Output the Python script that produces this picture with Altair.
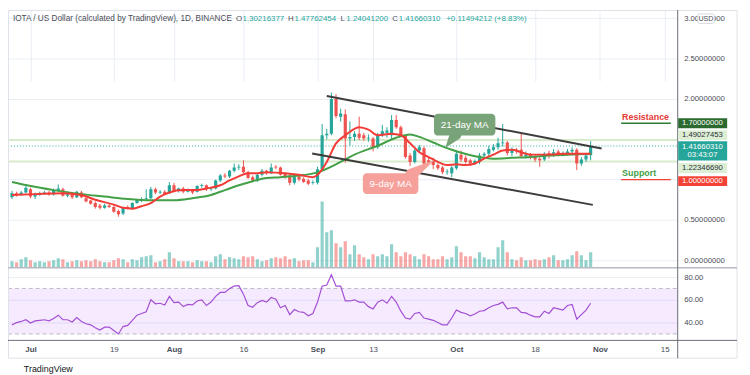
import altair as alt
import pandas as pd

FONT = "Liberation Sans"
W, H = 677, 334
UP, DOWN = "#26a69a", "#ef5350"
GRID = "#e9eef5"
AXT = "#4a4d57"

# ---------------- data ----------------
start = pd.Timestamp("2021-06-27")
dates = [(start + pd.Timedelta(days=i)).strftime("%Y-%m-%d") for i in range(126)]

opens = [0.78, 0.83, 0.81, 0.84, 0.88, 0.79, 0.81, 0.83, 0.84, 0.82,
         0.86, 0.88, 0.80, 0.82, 0.78, 0.84, 0.77, 0.74, 0.71, 0.68,
         0.65, 0.68, 0.66, 0.61, 0.58, 0.66, 0.64, 0.71, 0.74, 0.76,
         0.77, 0.88, 0.84, 0.85, 0.83, 0.93, 0.86, 0.89, 0.85, 0.87,
         0.85, 0.92, 0.93, 0.88, 0.89, 0.99, 1.05, 1.04, 1.11, 1.15,
         1.16, 1.09, 1.03, 0.99, 1.06, 1.11, 1.08, 1.16, 1.15, 1.07,
         1.05, 0.96, 1.04, 1.01, 0.99, 0.96, 0.96, 1.13, 1.55, 1.57,
         2.00, 1.78, 1.81, 1.51, 1.53, 1.57, 1.55, 1.51, 1.51, 1.40,
         1.55, 1.58, 1.55, 1.74, 1.65, 1.54, 1.30, 1.22, 1.36, 1.39,
         1.24, 1.23, 1.18, 1.15, 1.09, 1.08, 1.14, 1.31, 1.27, 1.24,
         1.20, 1.22, 1.30, 1.32, 1.37, 1.40, 1.45, 1.46, 1.33, 1.37,
         1.37, 1.29, 1.31, 1.28, 1.26, 1.25, 1.33, 1.30, 1.35, 1.31,
         1.32, 1.35, 1.37, 1.20, 1.25, 1.30216377]
highs = [0.86, 0.85, 0.86, 0.93, 0.90, 0.84, 0.85, 0.86, 0.86, 0.89,
         0.94, 0.90, 0.84, 0.84, 0.86, 0.86, 0.79, 0.75, 0.73, 0.70,
         0.70, 0.70, 0.68, 0.63, 0.66, 0.68, 0.72, 0.76, 0.78, 0.88,
         0.91, 0.90, 0.87, 0.87, 0.97, 0.96, 0.90, 0.91, 0.89, 0.88,
         0.93, 0.95, 0.94, 0.91, 1.00, 1.07, 1.08, 1.12, 1.20, 1.19,
         1.24, 1.11, 1.05, 1.08, 1.13, 1.12, 1.20, 1.18, 1.16, 1.09,
         1.08, 1.06, 1.06, 1.03, 1.01, 0.99, 1.16, 1.69, 1.63, 2.08,
         2.06, 1.88, 1.87, 1.72, 1.60, 1.78, 1.58, 1.56, 1.53, 1.58,
         1.68, 1.65, 1.80, 1.80, 1.67, 1.56, 1.33, 1.38, 1.43, 1.41,
         1.27, 1.27, 1.20, 1.17, 1.13, 1.17, 1.36, 1.36, 1.30, 1.26,
         1.25, 1.33, 1.34, 1.42, 1.44, 1.52, 1.69, 1.48, 1.40, 1.39,
         1.57, 1.35, 1.33, 1.30, 1.28, 1.34, 1.36, 1.38, 1.37, 1.35,
         1.38, 1.40, 1.39, 1.28, 1.33, 1.47762454]
lows = [0.76, 0.79, 0.80, 0.83, 0.77, 0.76, 0.80, 0.81, 0.80, 0.80,
        0.85, 0.79, 0.78, 0.76, 0.77, 0.77, 0.72, 0.69, 0.64, 0.63,
        0.64, 0.65, 0.59, 0.54, 0.56, 0.63, 0.63, 0.70, 0.72, 0.74,
        0.76, 0.82, 0.82, 0.81, 0.82, 0.85, 0.84, 0.83, 0.84, 0.82,
        0.84, 0.90, 0.86, 0.86, 0.88, 0.97, 1.02, 1.02, 1.09, 1.12,
        1.08, 1.01, 0.97, 0.97, 1.04, 1.06, 1.07, 1.13, 1.05, 1.01,
        0.93, 0.94, 0.98, 0.96, 0.93, 0.94, 0.94, 1.12, 1.50, 1.55,
        1.76, 1.72, 1.21, 1.42, 1.48, 1.49, 1.48, 1.47, 1.35, 1.38,
        1.53, 1.52, 1.50, 1.63, 1.53, 1.26, 1.17, 1.20, 1.33, 1.17,
        1.18, 1.13, 1.12, 1.07, 1.06, 1.03, 1.12, 1.22, 1.20, 1.17,
        1.18, 1.19, 1.27, 1.29, 1.35, 1.37, 1.41, 1.30, 1.29, 1.32,
        1.27, 1.26, 1.25, 1.22, 1.16, 1.23, 1.26, 1.28, 1.29, 1.29,
        1.30, 1.33, 1.12, 1.17, 1.22, 1.24041200]
closes = [0.83, 0.81, 0.84, 0.90, 0.79, 0.81, 0.83, 0.84, 0.82, 0.87,
          0.89, 0.80, 0.82, 0.78, 0.85, 0.78, 0.73, 0.70, 0.66, 0.65,
          0.68, 0.66, 0.60, 0.57, 0.65, 0.64, 0.71, 0.75, 0.76, 0.77,
          0.88, 0.84, 0.85, 0.82, 0.93, 0.86, 0.89, 0.85, 0.87, 0.84,
          0.92, 0.93, 0.88, 0.89, 0.99, 1.05, 1.04, 1.11, 1.15, 1.16,
          1.09, 1.02, 0.99, 1.06, 1.11, 1.08, 1.15, 1.15, 1.06, 1.03,
          0.96, 1.04, 1.00, 0.97, 0.95, 0.97, 1.13, 1.55, 1.57, 2.00,
          1.79, 1.82, 1.51, 1.53, 1.57, 1.52, 1.51, 1.52, 1.40, 1.55,
          1.60, 1.61, 1.74, 1.65, 1.55, 1.28, 1.22, 1.36, 1.40, 1.20,
          1.21, 1.18, 1.14, 1.09, 1.10, 1.15, 1.32, 1.25, 1.22, 1.20,
          1.23, 1.30, 1.32, 1.38, 1.40, 1.45, 1.46, 1.33, 1.37, 1.35,
          1.29, 1.31, 1.28, 1.25, 1.24, 1.32, 1.31, 1.34, 1.31, 1.32,
          1.35, 1.37, 1.20, 1.25, 1.30, 1.41660310]
volumes = [24, 20, 32, 40, 28, 20, 24, 20, 24, 28,
           36, 32, 20, 24, 28, 24, 28, 24, 32, 24,
           20, 20, 28, 36, 32, 20, 32, 28, 40, 44,
           48, 20, 24, 32, 60, 36, 24, 24, 24, 20,
           28, 24, 24, 20, 44, 52, 32, 40, 36, 32,
           44, 40, 44, 32, 24, 28, 36, 40, 36, 44,
           32, 36, 24, 28, 28, 20, 80, 264, 140, 148,
           96, 80, 104, 52, 88, 52, 40, 32, 52, 44,
           52, 44, 92, 60, 44, 60, 52, 44, 32, 52,
           44, 32, 32, 44, 32, 40, 84, 60, 44, 44,
           36, 60, 40, 32, 32, 80, 108, 60, 32, 28,
           40, 28, 28, 32, 28, 32, 40, 48, 28, 28,
           32, 48, 64, 48, 28, 60]
rsi14 = [38, 40, 41, 42.5, 39.6, 41.5, 42, 42.5, 41.5, 43.5,
         46.5, 42.5, 42.5, 40.5, 44.5, 41, 39, 38, 35.5, 33.5,
         36, 36, 33, 30, 36.5, 37.5, 42, 46.5, 48, 49.5,
         60, 56.5, 57, 55.5, 63, 57.5, 58, 54, 56, 55.5,
         59, 60, 55, 58, 63, 66.5, 66.5, 70, 72, 72.5,
         65, 55, 53.5, 57.5, 59.5, 58, 62, 60.5, 53, 55,
         47, 51.5, 49.5, 49, 46, 48, 58, 72, 73, 82,
         72, 72, 59, 59, 60, 58, 58, 54, 52, 58,
         60, 57, 63, 58, 50, 44, 43, 48, 49, 44,
         43, 42, 40, 38, 38, 44, 51, 49, 48, 46,
         47.5, 50, 50.5, 53, 55, 56, 58, 52, 53, 53,
         49, 48.5, 46.5, 45, 45, 50, 48, 53, 52, 51,
         55, 56, 43, 47, 51, 57]

ma9_day = [0, 5, 11, 15, 18, 22, 24, 26, 28, 30, 32, 34, 37, 40, 42, 45, 47, 49, 51, 53,
           55, 59, 62, 65, 66, 68, 70, 72, 74, 75, 77, 79, 82, 84, 86, 88, 90, 92, 94, 96,
           98, 100, 102, 104, 106, 108, 110, 112, 116, 119, 122, 125]
ma9_val = [0.81, 0.82, 0.83, 0.81, 0.75, 0.69, 0.65, 0.64, 0.67, 0.71, 0.79, 0.84, 0.87, 0.87,
           0.89, 0.93, 0.99, 1.04, 1.08, 1.08, 1.09, 1.08, 1.06, 1.03, 1.06, 1.22, 1.45, 1.55,
           1.63, 1.65, 1.62, 1.55, 1.57, 1.55, 1.45, 1.34, 1.28, 1.22, 1.18, 1.19, 1.18, 1.20,
           1.26, 1.31, 1.36, 1.37, 1.34, 1.31, 1.31, 1.32, 1.32, 1.32]
ma21_day = [0, 4, 9, 15, 20, 25, 30, 35, 39, 43, 46, 49, 52, 55, 58, 62, 66, 70, 74, 79,
            83, 86, 88, 91, 95, 100, 104, 108, 112, 116, 121, 125]
ma21_val = [0.97, 0.92, 0.87, 0.82, 0.79, 0.76, 0.745, 0.745, 0.77, 0.81, 0.87, 0.93, 0.98,
            1.02, 1.03, 1.05, 1.09, 1.19, 1.31, 1.42, 1.52, 1.56, 1.53, 1.46, 1.37, 1.29,
            1.26, 1.27, 1.28, 1.30, 1.31, 1.32]

x_ticks = ["2021-07-01", "2021-07-19", "2021-08-01", "2021-08-16", "2021-09-01",
           "2021-09-13", "2021-10-01", "2021-10-18", "2021-11-01", "2021-11-15"]
price_ticks = [0, 0.5, 1, 1.5, 2, 2.5, 3]
rsi_ticks = [40, 60, 80]

# channel drawings (time, price)
trend_line = ["upper", "upper", "lower", "lower"]
trend_time = ["2021-09-03T00:00:00Z", "2021-11-01T08:50:00Z",
              "2021-08-30T20:10:00Z", "2021-10-30T11:20:00Z"]
trend_price = [2.037, 1.387, 1.325, 0.687]

# ---------------- tables ----------------
def ms(s):
    return int(pd.Timestamp(s).value // 10**6)

candles = pd.DataFrame({"date": dates, "open": opens, "high": highs, "low": lows,
                        "close": closes, "volume": volumes, "rsi": rsi14})
candles["dir"] = ["up" if c >= o else "down" for o, c in zip(opens, closes)]
ma9 = pd.DataFrame({"date": [dates[i] for i in ma9_day], "v": ma9_val})
ma21 = pd.DataFrame({"date": [dates[i] for i in ma21_day], "v": ma21_val})
trend = pd.DataFrame({"line": trend_line, "date": trend_time, "price": trend_price})
ONE = pd.DataFrame({"k": [0]})

XS = alt.Scale(type="utc", domain=[ms("2021-06-27T05:03:00Z"), ms("2021-11-16T17:41:00Z")],
               range=[0, W])
PS = alt.Scale(domain=[-0.0859, 3.104], range=[260, 0], nice=False, zero=False)
VS = alt.Scale(domain=[0, 270], range=[260, 192], nice=False, zero=False)
RS = alt.Scale(domain=[24.35, 86.96], range=[334, 262], nice=False, zero=False)
COL = alt.Color("dir:N", scale=alt.Scale(domain=["up", "down"], range=[UP, DOWN]), legend=None)

XAXIS = alt.Axis(values=[ms(d) for d in x_ticks],
                 labelExpr="utcdate(datum.value) == 1 ? utcFormat(datum.value, '%b') : utcFormat(datum.value, '%-d')",
                 labelFontWeight={"condition": {"test": "utcdate(datum.value) == 1", "value": "bold"},
                                  "value": "normal"},
                 grid=True, gridColor=GRID, ticks=False, domain=False, labelPadding=5,
                 labelFontSize=8, labelColor=AXT, labelFont=FONT, labelOverlap=False,
                 labelFlush=False, title=None)


def X(field="date:T"):
    return alt.X(field, scale=XS, axis=XAXIS, title=None)


def P(field, axis=None):
    return alt.Y(field, scale=PS, axis=axis, title=None)


def PD(v):
    return alt.Y(datum=v, scale=PS, axis=None)


def txt(text, x, y, size=8.3, color=AXT, weight="normal", align="left", baseline="middle"):
    return alt.Chart(ONE).mark_text(text=text, font=FONT, fontSize=size, color=color,
                                    fontWeight=weight, align=align, baseline=baseline
                                    ).encode(x=alt.value(x), y=alt.value(y))


def prule(x1, x2, y1, y2, color, w=1.0):
    return alt.Chart(ONE).mark_rule(color=color, strokeWidth=w).encode(
        x=alt.value(x1), x2=alt.value(x2), y=alt.value(y1), y2=alt.value(y2))


layers = []

# RSI pane
raxis = alt.Axis(orient="right", values=rsi_ticks, format=".2f", grid=True, gridColor=GRID,
                 ticks=False, domain=False, labelPadding=6, labelFontSize=7.8, labelColor=AXT,
                 labelFont=FONT, labelOverlap=False, labelFlush=False)
layers.append(alt.Chart(ONE).mark_rect(color="#9915ff", opacity=0.09).encode(
    x=alt.value(0), x2=alt.value(W),
    y=alt.Y(datum=70, scale=RS, axis=None), y2=alt.Y2(datum=30)))
for lvl in (70, 30):
    layers.append(alt.Chart(ONE).mark_rule(color="#b9b9c2", strokeDash=[4, 3], strokeWidth=1).encode(
        x=alt.value(0), x2=alt.value(W), y=alt.Y(datum=lvl, scale=RS, axis=None)))
layers.append(alt.Chart(candles).mark_line(color="#a34fd3", strokeWidth=1.2, clip=True).encode(
    x=X(), y=alt.Y("rsi:Q", scale=RS, axis=raxis, title=None)))

# volume
layers.append(alt.Chart(candles).mark_bar(size=3.2, opacity=0.5, clip=True).encode(
    x=X(), y=alt.Y("volume:Q", scale=VS, axis=None), color=COL))

# horizontal drawings
for lvl in (1.49027453, 1.22346690):
    layers.append(alt.Chart(ONE).mark_rule(color="#d7eacb", strokeWidth=2).encode(
        x=alt.value(0), x2=alt.value(W), y=PD(lvl)))
layers.append(alt.Chart(ONE).mark_rule(color=UP, strokeWidth=1, strokeDash=[1, 2]).encode(
    x=alt.value(0), x2=alt.value(W), y=PD(1.41660310)))

# candles
paxis = alt.Axis(orient="right", values=price_ticks, grid=True, gridColor=GRID,
                 labelExpr="datum.value == 1 || datum.value == 1.5 ? '' : format(datum.value, '.8f')",
                 ticks=False, domain=False, labelPadding=6, labelFontSize=7.8, labelColor=AXT,
                 labelFont=FONT, labelOverlap=False, labelFlush=False)
layers.append(alt.Chart(candles).mark_rule(strokeWidth=1, clip=True).encode(
    x=X(), y=P("low:Q", axis=paxis), y2="high:Q", color=COL))
layers.append(alt.Chart(candles).mark_bar(size=3.2, clip=True).encode(
    x=X(), y=P("open:Q"), y2="close:Q", color=COL))

# moving averages
layers.append(alt.Chart(ma21).mark_line(color="#43a047", strokeWidth=2, clip=True,
                                        interpolate="monotone").encode(x=X(), y=P("v:Q")))
layers.append(alt.Chart(ma9).mark_line(color="#f23b36", strokeWidth=2, clip=True,
                                       interpolate="monotone").encode(x=X(), y=P("v:Q")))

# channel
layers.append(alt.Chart(trend).mark_line(color="#3c3c3c", strokeWidth=2).encode(
    x=X(), y=P("price:Q"), detail="line:N"))


# callouts
def callout(d1, d2, p1, p2, tdate, tprice, tail_dates, tail_prices, tail_w, fill, label):
    box = pd.DataFrame({"d1": [d1], "d2": [d2], "p1": [p1], "p2": [p2]})
    tail = pd.DataFrame({"date": tail_dates, "price": tail_prices, "w": tail_w})
    lab = pd.DataFrame({"date": [tdate], "price": [tprice]})
    return [
        alt.Chart(tail).mark_trail(color=fill).encode(
            x=X(), y=P("price:Q"), size=alt.Size("w:Q", scale=None, legend=None)),
        alt.Chart(box).mark_rect(color=fill, cornerRadius=4).encode(
            x=X("d1:T"), x2="d2:T", y=P("p1:Q"), y2="p2:Q"),
        alt.Chart(lab).mark_text(text=label, font=FONT, fontSize=10, color="white").encode(
            x=X(), y=P("price:Q")),
    ]


layers += callout("2021-09-26T03:48:00Z", "2021-10-09T10:06:00Z", 1.546, 1.816,
                  "2021-10-02T19:00:00Z", 1.681,
                  ["2021-09-28T16:20:00Z", "2021-09-30T19:00:00Z"], [1.399, 1.558], [0.5, 12],
                  "#79a378", "21-day MA")
layers += callout("2021-09-10T19:00:00Z", "2021-09-22T19:00:00Z", 0.822, 1.080,
                  "2021-09-16T19:00:00Z", 0.951,
                  ["2021-09-21T07:40:00Z", "2021-09-26T03:48:00Z"], [1.067, 1.239], [12, 0.5],
                  "#f5a09a", "9-day MA")

# resistance / support
for lvl, lcol, label, tcol in ((1.70, "#2e7d32", "Resistance", "#e53935"),
                               (1.00, "#f44336", "Support", "#43a047")):
    seg = pd.DataFrame({"date": ["2021-11-05T13:55:00Z", "2021-11-16T07:40:00Z"], "price": [lvl, lvl]})
    layers.append(alt.Chart(seg).mark_line(color=lcol, strokeWidth=1.5).encode(x=X(), y=P("price:Q")))
    tl = pd.DataFrame({"date": ["2021-11-05T19:00:00Z"], "price": [lvl]})
    layers.append(alt.Chart(tl).mark_text(text=label, font=FONT, fontSize=9, fontWeight="bold",
                                          color=tcol, align="left", dy=-6.5).encode(
        x=X(), y=P("price:Q")))

# frame, pane separators and axis lines
layers.append(alt.Chart(ONE).mark_rect(fillOpacity=0, stroke="#dfe2e8", strokeWidth=1).encode(
    x=alt.value(0.5), x2=alt.value(737), y=alt.value(0.5), y2=alt.value(352)))
layers.append(prule(0, 737, 260.5, 260.5, "#b7bac2", 1.5))
layers.append(prule(0, 737, 334, 334, "#6a6d78", 1))
layers.append(prule(677, 677, 0, 352, "#6a6d78", 1))


# price tags on the scale
def tag(value, line1, fill, tcol, shift, h=10, line2=None):
    out = [alt.Chart(ONE).mark_rect(color=fill, yOffset=shift - h / 2, y2Offset=shift + h / 2).encode(
        x=alt.value(677.5), x2=alt.value(727), y=PD(value), y2=alt.Y2(datum=value))]
    dy1 = shift if line2 is None else shift - 4.5
    out.append(alt.Chart(ONE).mark_text(text=line1, font=FONT, fontSize=7.8, color=tcol, dy=dy1).encode(
        x=alt.value(702), y=PD(value)))
    if line2 is not None:
        out.append(alt.Chart(ONE).mark_text(text=line2, font=FONT, fontSize=7.8, color=tcol,
                                            dy=shift + 4.5).encode(x=alt.value(702), y=PD(value)))
    return out


layers += tag(1.70, "1.70000000", "#2b6a2f", "white", 0)
layers += tag(1.49027453, "1.49027453", "#dcefd4", "#2a2e39", -5)
layers += tag(1.41660310, "1.41660310", UP, "white", 5, h=19.5, line2="03:43:07")
layers += tag(1.22346690, "1.22346690", "#dcefd4", "#2a2e39", 6.5)
layers += tag(1.00, "1.00000000", "#f44336", "white", 1.5)

# USD badge
layers.append(alt.Chart(ONE).mark_rect(fill="white", stroke="#c9ccd3", strokeWidth=0.8,
                                       cornerRadius=2).encode(
    x=alt.value(697), x2=alt.value(714), y=alt.value(4), y2=alt.value(13.5)))
layers.append(txt("USD", 705.5, 9, size=7.2, align="center"))

# header
layers.append(txt("IOTA / US Dollar (calculated by TradingView), 1D, BINANCE", 5, 9))
for lab, x in (("O", 230.5), ("H", 283), ("L", 336), ("C", 388.5)):
    layers.append(txt(lab, x, 9, size=8))
for val, x in (("1.30216377", 237), ("1.47762454", 289.5), ("1.24041200", 342),
               ("1.41660310", 395), ("+0.11494212 (+8.83%)", 443)):
    layers.append(txt(val, x, 9, size=8, color=UP))

# footer
layers.append(txt("TradingView", 16, 363, size=9, color="#131722"))

chart = alt.layer(*layers).resolve_scale(y="independent").properties(
    width=W, height=H,
    autosize=alt.AutoSizeParams(type="none"),
    padding={"left": 0, "top": 0, "right": 65, "bottom": 33},
).configure_view(stroke=None)

chart.save("out.html", embed_options={"renderer": "svg", "actions": False})
